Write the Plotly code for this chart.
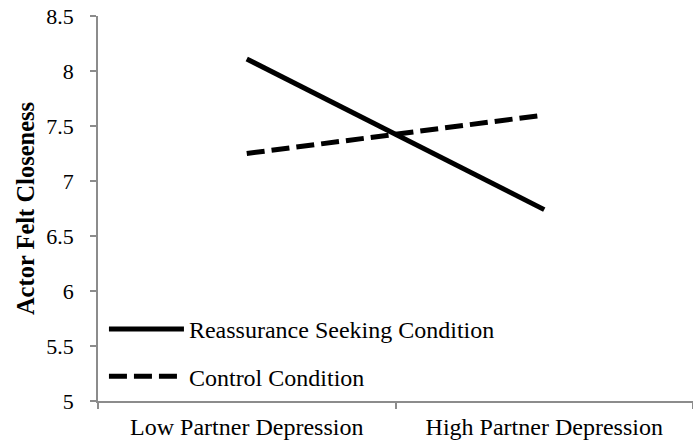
import plotly.graph_objects as go

categories = ["Low Partner Depression", "High Partner Depression"]
reassurance = [8.11, 6.74]
control = [7.25, 7.60]
series_names = ["Reassurance Seeking Condition", "Control Condition"]
y_ticks = [5, 5.5, 6, 6.5, 7, 7.5, 8, 8.5]
y_tick_labels = ["5", "5.5", "6", "6.5", "7", "7.5", "8", "8.5"]

FONT = "Liberation Serif, serif"
AXIS_GRAY = "#8c8c8c"

fig = go.Figure()
fig.add_trace(go.Scatter(
    x=categories, y=reassurance, mode="lines", name=series_names[0],
    legendgroup="a",
    line=dict(color="black", width=5),
))
fig.add_trace(go.Scatter(
    x=categories, y=control, mode="lines", name=series_names[1],
    legendgroup="b",
    line=dict(color="black", width=5, dash="18px,7px"),
))

fig.update_layout(
    width=693, height=442,
    margin=dict(l=98, r=0, t=16, b=41),
    paper_bgcolor="white", plot_bgcolor="white",
    font=dict(family=FONT, color="black", size=22),
    showlegend=True,
    legend=dict(
        x=0.01, y=0.125, xanchor="left", yanchor="middle",
        bgcolor="rgba(0,0,0,0)",
        font=dict(family=FONT, size=24, color="black"),
        itemwidth=75,
        tracegroupgap=13,
        traceorder="grouped",
    ),
    xaxis=dict(
        type="category", range=[-0.5, 1.5],
        showline=True, linecolor=AXIS_GRAY, linewidth=1.5,
        ticks="outside", ticklen=6, tickcolor=AXIS_GRAY, tickwidth=1.5,
        tickson="boundaries",
        showgrid=False, zeroline=False, automargin=False,
        ticklabelstandoff=3,
        tickfont=dict(family=FONT, size=24, color="black"),
    ),
    yaxis=dict(
        range=[5, 8.5001],
        tickvals=y_ticks, ticktext=y_tick_labels,
        showline=True, linecolor=AXIS_GRAY, linewidth=1.5,
        ticks="outside", ticklen=6, tickcolor=AXIS_GRAY, tickwidth=1.5,
        showgrid=False, zeroline=False, automargin=False,
        tickfont=dict(family=FONT, size=22, color="black"),
        ticklabelstandoff=12,
        title=dict(text="<b>Actor Felt Closeness</b>", standoff=5,
                   font=dict(family=FONT, size=24.5, color="black")),
    ),
)

fig.write_html("out.html", config={"displayModeBar": False},
               post_script="document.body.style.margin='0';")
